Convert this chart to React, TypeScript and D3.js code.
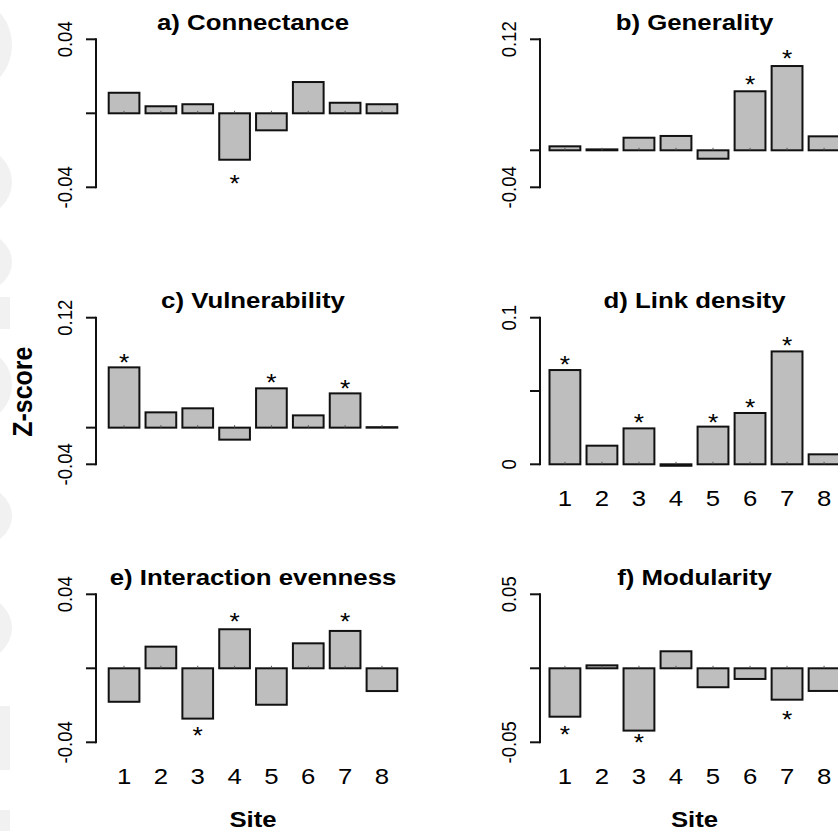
import React from "react";
import * as d3 from "d3";

// ---------- data ----------
const sites = ["1", "2", "3", "4", "5", "6", "7", "8"];

const connectance = [0.0111, 0.0038, 0.0049, -0.0251, -0.0092, 0.0169, 0.0057, 0.0049];
const generality = [0.0043, 0.001, 0.0136, 0.0155, -0.0091, 0.0638, 0.0911, 0.0151];
const vulnerability = [0.0658, 0.0167, 0.0211, -0.0131, 0.0429, 0.0134, 0.0374, 0.0005];
const linkDensity = [0.0643, 0.0127, 0.0245, -0.001, 0.0257, 0.035, 0.077, 0.0068];
const evenness = [-0.0181, 0.0117, -0.0272, 0.0211, -0.0197, 0.0135, 0.0202, -0.0123];
const modularity = [-0.0327, 0.002, -0.0421, 0.0115, -0.0128, -0.0072, -0.0212, -0.0153];

// position (in data units) of the significance asterisk, null = not significant
const connectanceStars = [null, null, null, -0.0366, null, null, null, null];
const generalityStars = [null, null, null, null, null, 0.0731, 0.102, null];
const vulnerabilityStars = [0.0741, null, null, null, 0.0522, null, 0.0449, null];
const linkDensityStars = [0.0695, null, 0.0302, null, 0.0302, 0.0402, 0.0825, null];
const evennessStars = [null, null, -0.0351, 0.0265, null, null, 0.0265, null];
const modularityStars = [-0.0432, null, -0.0489, null, null, null, -0.0328, null];

const panelTitles = [
  "a) Connectance",
  "b) Generality",
  "c) Vulnerability",
  "d) Link density",
  "e) Interaction evenness",
  "f) Modularity",
];
const yDomains: [number, number][] = [
  [-0.04, 0.04],
  [-0.04, 0.12],
  [-0.04, 0.12],
  [0, 0.1],
  [-0.04, 0.04],
  [-0.05, 0.05],
];
const yTicks = [
  [-0.04, 0, 0.04],
  [-0.04, 0, 0.12],
  [-0.04, 0, 0.12],
  [0, 0.05, 0.1],
  [-0.04, 0, 0.04],
  [-0.05, 0, 0.05],
];
const yTickLabels = [
  ["-0.04", "", "0.04"],
  ["-0.04", "", "0.12"],
  ["-0.04", "", "0.12"],
  ["0", "", "0.1"],
  ["-0.04", "", "0.04"],
  ["-0.05", "", "0.05"],
];
const showSiteLabels = [false, false, false, true, true, true];
const showSiteTitle = [false, false, false, false, true, true];
const yAxisTitle = "Z-score";
const xAxisTitle = "Site";

const seriesValues = [connectance, generality, vulnerability, linkDensity, evenness, modularity];
const seriesStars = [
  connectanceStars,
  generalityStars,
  vulnerabilityStars,
  linkDensityStars,
  evennessStars,
  modularityStars,
];

// ---------- layout ----------
const W = 838;
const H = 831;
const FONT = "'Liberation Sans', Arial, Helvetica, sans-serif";
const colBand: [number, number][] = [
  [108.7, 397.3],
  [549.5, 839.5],
];
const colAxisX = [96, 540];
// [top tick y, bottom tick y]
const rowY: [number, number][] = [
  [39.3, 187.3],
  [317.7, 464.3],
  [594.3, 742.3],
];

const BAR_FILL = "#bebebe";
const INK = "#111";

function SText({
  x,
  y,
  sx = 1.15,
  rotate = 0,
  size,
  bold = false,
  anchor = "middle",
  children,
}: {
  x: number;
  y: number;
  sx?: number;
  rotate?: number;
  size: number;
  bold?: boolean;
  anchor?: string;
  children: React.ReactNode;
}) {
  return (
    <text
      transform={`translate(${x},${y}) scale(${sx},1)${rotate ? ` rotate(${rotate})` : ""}`}
      fontFamily={FONT}
      fontSize={size}
      fontWeight={bold ? "bold" : "normal"}
      textAnchor={anchor}
      fill="#000"
    >
      {children}
    </text>
  );
}

function Panel({ idx }: { idx: number }) {
  const col = idx % 2;
  const row = Math.floor(idx / 2);
  const [yTop, yBottom] = rowY[row];
  const x = d3
    .scaleBand<string>()
    .domain(sites)
    .range(colBand[col])
    .paddingInner(1 / 6)
    .paddingOuter(0);
  const y = d3.scaleLinear().domain(yDomains[idx]).range([yBottom, yTop]);
  const axisX = colAxisX[col];
  const values = seriesValues[idx];
  const stars = seriesStars[idx];
  const y0 = y(0);
  const cx = (colBand[col][0] + colBand[col][1]) / 2;
  const ticks = yTicks[idx];
  const starSize = 24;

  return (
    <g>
      {/* title */}
      <SText x={cx} y={yTop - 9.5} size={21.5} bold sx={1.2}>
        {panelTitles[idx]}
      </SText>
      {/* y axis */}
      <line
        x1={axisX}
        x2={axisX}
        y1={y(ticks[0])}
        y2={y(ticks[ticks.length - 1])}
        stroke={INK}
        strokeWidth={2}
        strokeLinecap="square"
      />
      {ticks.map((t, i) => (
        <g key={i}>
          <line x1={axisX - 10} x2={axisX} y1={y(t)} y2={y(t)} stroke={INK} strokeWidth={2} />
          {yTickLabels[idx][i] && (
            <SText x={axisX - 24} y={y(t)} size={18.5} rotate={-90} sx={1.1}>
              {yTickLabels[idx][i]}
            </SText>
          )}
        </g>
      ))}
      {/* bars */}
      {values.map((v, i) => {
        const xb = x(sites[i]) as number;
        const top = Math.min(y(v), y0);
        const h = Math.abs(y(v) - y0);
        return (
          <g key={i}>
            <rect
              x={xb}
              y={top}
              width={x.bandwidth()}
              height={Math.max(h, 0.01)}
              fill={BAR_FILL}
              stroke={INK}
              strokeWidth={2}
            />
            <line
              x1={xb + x.bandwidth() / 2}
              x2={xb + x.bandwidth() / 2}
              y1={y0 - 2.5}
              y2={y0}
              stroke="#555"
              strokeWidth={1}
            />
          </g>
        );
      })}
      {/* significance asterisks */}
      {stars.map((s, i) =>
        s === null ? null : (
          <SText
            key={i}
            x={(x(sites[i]) as number) + x.bandwidth() / 2}
            y={y(s) + starSize * 0.45}
            size={starSize}
            sx={1.1}
          >
            *
          </SText>
        )
      )}
      {/* site labels */}
      {showSiteLabels[idx] &&
        sites.map((s) => (
          <SText
            key={s}
            x={(x(s) as number) + x.bandwidth() / 2}
            y={yBottom + 41.5}
            size={23}
            sx={1.12}
          >
            {s}
          </SText>
        ))}
      {showSiteTitle[idx] && (
        <SText x={cx} y={826.7} size={23} bold sx={1.12}>
          {xAxisTitle}
        </SText>
      )}
    </g>
  );
}

// faint background decorations at the left edge of the image
const edgeShapes = [
  { kind: "e", cy: 45, ry: 42 },
  { kind: "e", cy: 182, ry: 34 },
  { kind: "e", cy: 262, ry: 30 },
  { kind: "r", cy: 313, ry: 16 },
  { kind: "e", cy: 385, ry: 36 },
  { kind: "e", cy: 516, ry: 30 },
  { kind: "e", cy: 628, ry: 32 },
  { kind: "r", cy: 738, ry: 32 },
  { kind: "r", cy: 822, ry: 12 },
];

export default function App() {
  return (
    <svg width={W} height={H} style={{ display: "block", position: "absolute", left: 0, top: 0 }}>
      <rect x={0} y={0} width={W} height={H} fill="#fff" />
      {edgeShapes.map((s, i) =>
        s.kind === "e" ? (
          <ellipse key={i} cx={-22} cy={s.cy} rx={34} ry={s.ry} fill="#f1f1f1" />
        ) : (
          <rect key={i} x={0} y={s.cy - s.ry} width={10} height={s.ry * 2} fill="#f1f1f1" />
        )
      )}
      {[0, 1, 2, 3, 4, 5].map((i) => (
        <Panel key={i} idx={i} />
      ))}
      <SText x={31.5} y={391.7} size={25} bold rotate={-90} sx={1.12}>
        {yAxisTitle}
      </SText>
    </svg>
  );
}
